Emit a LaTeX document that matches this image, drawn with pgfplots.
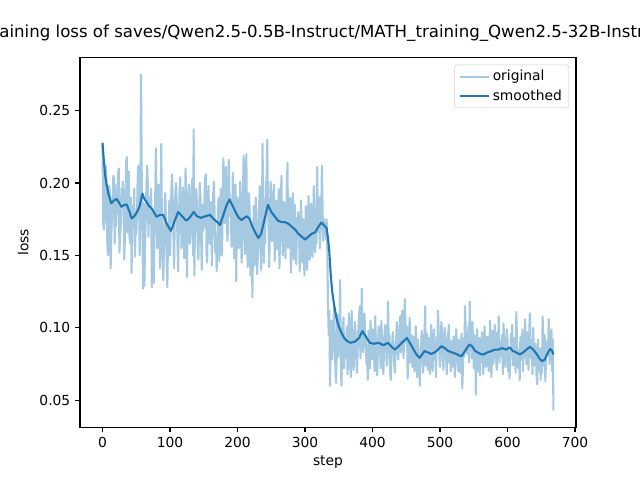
\documentclass[border=0pt]{standalone}
\usepackage{fontspec}
\setmainfont{DejaVu Sans}
\usepackage{pgfplots}
\pgfplotsset{compat=1.18}
\definecolor{tabblue}{HTML}{1F77B4}
\colorlet{lightblue}{tabblue!40!white}
\begin{document}
\begin{tikzpicture}
\begin{axis}[
  scale only axis, width=4.96in, height=3.696in,
  at={(0,0)}, anchor=south west,
  xmin=-33.4, xmax=701.4, ymin=0.0314, ymax=0.2866,
  xtick={0,100,200,300,400,500,600,700},
  ytick={0.05,0.10,0.15,0.20,0.25},
  scaled y ticks=false,
  yticklabel style={/pgf/number format/.cd, fixed, fixed zerofill, precision=2},
  /pgf/number format/assume math mode=true,
  tick align=outside, tick pos=left, major tick length=3.5pt,
  tick style={black, line width=0.8pt},
  axis line style={line width=0.8pt},
  ticklabel style={font=\fontsize{10}{12}\selectfont},
  xlabel={step}, ylabel={loss},
  xlabel style={at={(axis description cs:0.5,-0.1023)}, anchor=base, font=\fontsize{10}{12}\selectfont},
  ylabel style={at={(axis description cs:-0.1042,0.5)}, anchor=base, font=\fontsize{10}{12}\selectfont},
  title={training loss of saves/Qwen2.5-0.5B-Instruct/MATH\_training\_Qwen2.5-32B-Instruct},
  title style={at={(axis description cs:0.5,1.0314)}, anchor=base, font=\fontsize{12}{14}\selectfont},
  legend cell align=left,
  legend image code/.code={\draw[#1] (0pt,0pt) -- (21pt,0pt);},
  legend style={at={(axis description cs:1,1)}, anchor=north east, xshift=-5pt, yshift=-5pt,
    draw=black!20, rounded corners=2pt, fill=white, fill opacity=0.8, text opacity=1,
    font=\fontsize{10}{12}\selectfont, inner xsep=3pt, inner ysep=2pt, row sep=1pt},
]
\addplot[lightblue, line width=1.5pt, line join=round] coordinates {
(0,0.228)(1,0.172)(2,0.168)(3,0.175)(4,0.205)(5,0.212)(6,0.196)(7,0.160)(8,0.150)(9,0.190)
(10,0.198)(11,0.192)(12,0.141)(13,0.164)(14,0.176)(15,0.187)(16,0.205)(17,0.203)(18,0.158)(19,0.199)
(20,0.170)(21,0.183)(22,0.179)(23,0.207)(24,0.210)(25,0.152)(26,0.163)(27,0.171)(28,0.196)(29,0.188)
(30,0.201)(31,0.193)(32,0.147)(33,0.160)(34,0.181)(35,0.215)(36,0.218)(37,0.166)(38,0.199)(39,0.208)
(40,0.162)(41,0.158)(42,0.190)(43,0.138)(44,0.171)(45,0.184)(46,0.180)(47,0.196)(48,0.149)(49,0.167)
(50,0.165)(51,0.178)(52,0.203)(53,0.212)(54,0.196)(55,0.150)(56,0.190)(57,0.275)(58,0.209)(59,0.172)
(60,0.127)(61,0.186)(62,0.129)(63,0.158)(64,0.175)(65,0.198)(66,0.212)(67,0.201)(68,0.163)(69,0.190)
(70,0.185)(71,0.172)(72,0.196)(73,0.128)(74,0.148)(75,0.181)(76,0.131)(77,0.168)(78,0.190)(79,0.224)
(80,0.183)(81,0.155)(82,0.162)(83,0.199)(84,0.176)(85,0.141)(86,0.158)(87,0.227)(88,0.170)(89,0.150)
(90,0.133)(91,0.157)(92,0.182)(93,0.193)(94,0.171)(95,0.146)(96,0.128)(97,0.160)(98,0.175)(99,0.188)
(100,0.150)(101,0.172)(102,0.196)(103,0.206)(104,0.188)(105,0.164)(106,0.141)(107,0.176)(108,0.195)(109,0.200)
(110,0.186)(111,0.159)(112,0.139)(113,0.170)(114,0.192)(115,0.204)(116,0.181)(117,0.155)(118,0.163)(119,0.197)
(120,0.177)(121,0.148)(122,0.166)(123,0.210)(124,0.185)(125,0.135)(126,0.172)(127,0.190)(128,0.199)(129,0.158)
(130,0.161)(131,0.174)(132,0.195)(133,0.203)(134,0.150)(135,0.237)(136,0.136)(137,0.169)(138,0.188)(139,0.196)
(140,0.182)(141,0.158)(142,0.147)(143,0.171)(144,0.200)(145,0.192)(146,0.163)(147,0.140)(148,0.185)(149,0.167)
(150,0.170)(151,0.189)(152,0.204)(153,0.206)(154,0.152)(155,0.145)(156,0.181)(157,0.198)(158,0.165)(159,0.158)
(160,0.176)(161,0.187)(162,0.143)(163,0.168)(164,0.193)(165,0.201)(166,0.180)(167,0.152)(168,0.163)(169,0.139)
(170,0.158)(171,0.183)(172,0.190)(173,0.146)(174,0.165)(175,0.196)(176,0.177)(177,0.150)(178,0.188)(179,0.217)
(180,0.198)(181,0.172)(182,0.205)(183,0.211)(184,0.183)(185,0.160)(186,0.169)(187,0.216)(188,0.194)(189,0.177)
(190,0.189)(191,0.156)(192,0.171)(193,0.207)(194,0.184)(195,0.148)(196,0.165)(197,0.199)(198,0.132)(199,0.176)
(200,0.190)(201,0.183)(202,0.155)(203,0.163)(204,0.201)(205,0.178)(206,0.145)(207,0.160)(208,0.192)(209,0.219)
(210,0.186)(211,0.151)(212,0.164)(213,0.220)(214,0.175)(215,0.142)(216,0.158)(217,0.193)(218,0.180)(219,0.136)
(220,0.150)(221,0.172)(222,0.121)(223,0.158)(224,0.184)(225,0.143)(226,0.166)(227,0.190)(228,0.176)(229,0.137)
(230,0.148)(231,0.155)(232,0.185)(233,0.198)(234,0.178)(235,0.140)(236,0.163)(237,0.227)(238,0.190)(239,0.145)
(240,0.172)(241,0.158)(242,0.196)(243,0.205)(244,0.230)(245,0.188)(246,0.167)(247,0.142)(248,0.179)(249,0.201)
(250,0.193)(251,0.160)(252,0.168)(253,0.185)(254,0.199)(255,0.146)(256,0.171)(257,0.188)(258,0.154)(259,0.165)
(260,0.181)(261,0.196)(262,0.141)(263,0.163)(264,0.178)(265,0.205)(266,0.168)(267,0.150)(268,0.159)(269,0.187)
(270,0.183)(271,0.148)(272,0.170)(273,0.197)(274,0.214)(275,0.155)(276,0.163)(277,0.176)(278,0.190)(279,0.138)
(280,0.161)(281,0.179)(282,0.193)(283,0.147)(284,0.170)(285,0.185)(286,0.156)(287,0.144)(288,0.176)(289,0.162)
(290,0.180)(291,0.171)(292,0.139)(293,0.153)(294,0.188)(295,0.166)(296,0.145)(297,0.175)(298,0.168)(299,0.136)
(300,0.152)(301,0.184)(302,0.173)(303,0.140)(304,0.160)(305,0.191)(306,0.178)(307,0.147)(308,0.156)(309,0.186)
(310,0.175)(311,0.149)(312,0.163)(313,0.198)(314,0.181)(315,0.152)(316,0.170)(317,0.158)(318,0.211)(319,0.166)
(320,0.184)(321,0.190)(322,0.155)(323,0.168)(324,0.178)(325,0.212)(326,0.181)(327,0.160)(328,0.175)(329,0.165)
(330,0.170)(331,0.161)(332,0.175)(333,0.152)(334,0.118)(335,0.095)(336,0.112)(337,0.060)(338,0.088)(339,0.105)
(340,0.078)(341,0.085)(342,0.102)(343,0.115)(344,0.096)(345,0.070)(346,0.062)(347,0.088)(348,0.109)(349,0.080)
(350,0.094)(351,0.091)(352,0.133)(353,0.075)(354,0.060)(355,0.083)(356,0.098)(357,0.107)(358,0.072)(359,0.090)
(360,0.079)(361,0.093)(362,0.101)(363,0.068)(364,0.085)(365,0.110)(366,0.090)(367,0.074)(368,0.066)(369,0.112)
(370,0.097)(371,0.082)(372,0.071)(373,0.088)(374,0.104)(375,0.095)(376,0.077)(377,0.069)(378,0.086)(379,0.100)
(380,0.108)(381,0.115)(382,0.079)(383,0.091)(384,0.127)(385,0.098)(386,0.083)(387,0.088)(388,0.110)(389,0.096)
(390,0.093)(391,0.075)(392,0.081)(393,0.064)(394,0.098)(395,0.089)(396,0.072)(397,0.105)(398,0.091)(399,0.078)
(400,0.083)(401,0.099)(402,0.094)(403,0.070)(404,0.108)(405,0.090)(406,0.076)(407,0.067)(408,0.085)(409,0.101)
(410,0.096)(411,0.088)(412,0.072)(413,0.105)(414,0.093)(415,0.079)(416,0.068)(417,0.084)(418,0.099)(419,0.102)
(420,0.091)(421,0.074)(422,0.080)(423,0.118)(424,0.087)(425,0.096)(426,0.070)(427,0.064)(428,0.081)(429,0.089)
(430,0.097)(431,0.088)(432,0.075)(433,0.069)(434,0.082)(435,0.093)(436,0.104)(437,0.091)(438,0.078)(439,0.086)
(440,0.099)(441,0.108)(442,0.083)(443,0.088)(444,0.112)(445,0.094)(446,0.079)(447,0.103)(448,0.120)(449,0.090)
(450,0.096)(451,0.101)(452,0.065)(453,0.084)(454,0.092)(455,0.107)(456,0.076)(457,0.081)(458,0.095)(459,0.073)
(460,0.088)(461,0.094)(462,0.070)(463,0.079)(464,0.101)(465,0.085)(466,0.066)(467,0.092)(468,0.083)(469,0.072)
(470,0.060)(471,0.076)(472,0.090)(473,0.098)(474,0.087)(475,0.069)(476,0.079)(477,0.095)(478,0.115)(479,0.074)
(480,0.089)(481,0.096)(482,0.071)(483,0.080)(484,0.093)(485,0.068)(486,0.077)(487,0.102)(488,0.083)(489,0.070)
(490,0.091)(491,0.099)(492,0.078)(493,0.084)(494,0.066)(495,0.094)(496,0.087)(497,0.112)(498,0.096)(499,0.080)
(500,0.073)(501,0.090)(502,0.104)(503,0.097)(504,0.082)(505,0.071)(506,0.088)(507,0.100)(508,0.093)(509,0.079)
(510,0.068)(511,0.087)(512,0.095)(513,0.102)(514,0.076)(515,0.081)(516,0.070)(517,0.091)(518,0.084)(519,0.073)
(520,0.094)(521,0.079)(522,0.066)(523,0.088)(524,0.099)(525,0.085)(526,0.075)(527,0.070)(528,0.092)(529,0.081)
(530,0.069)(531,0.087)(532,0.096)(533,0.058)(534,0.074)(535,0.093)(536,0.080)(537,0.115)(538,0.098)(539,0.086)
(540,0.082)(541,0.090)(542,0.101)(543,0.076)(544,0.118)(545,0.085)(546,0.093)(547,0.079)(548,0.104)(549,0.088)
(550,0.072)(551,0.095)(552,0.089)(553,0.054)(554,0.078)(555,0.099)(556,0.086)(557,0.070)(558,0.093)(559,0.067)
(560,0.085)(561,0.076)(562,0.097)(563,0.090)(564,0.068)(565,0.081)(566,0.101)(567,0.088)(568,0.073)(569,0.079)
(570,0.094)(571,0.086)(572,0.070)(573,0.077)(574,0.105)(575,0.091)(576,0.066)(577,0.083)(578,0.098)(579,0.075)
(580,0.089)(581,0.102)(582,0.093)(583,0.079)(584,0.071)(585,0.097)(586,0.084)(587,0.108)(588,0.076)(589,0.090)
(590,0.081)(591,0.088)(592,0.095)(593,0.068)(594,0.103)(595,0.092)(596,0.077)(597,0.073)(598,0.086)(599,0.099)
(600,0.091)(601,0.070)(602,0.083)(603,0.065)(604,0.079)(605,0.096)(606,0.088)(607,0.102)(608,0.074)(609,0.087)
(610,0.093)(611,0.081)(612,0.069)(613,0.111)(614,0.090)(615,0.076)(616,0.072)(617,0.085)(618,0.064)(619,0.094)
(620,0.078)(621,0.083)(622,0.099)(623,0.070)(624,0.092)(625,0.080)(626,0.106)(627,0.089)(628,0.075)(629,0.097)
(630,0.082)(631,0.071)(632,0.094)(633,0.110)(634,0.091)(635,0.079)(636,0.085)(637,0.068)(638,0.100)(639,0.083)
(640,0.074)(641,0.089)(642,0.083)(643,0.066)(644,0.061)(645,0.092)(646,0.077)(647,0.070)(648,0.086)(649,0.064)
(650,0.081)(651,0.069)(652,0.108)(653,0.085)(654,0.074)(655,0.095)(656,0.063)(657,0.078)(658,0.088)(659,0.091)
(660,0.083)(661,0.106)(662,0.075)(663,0.097)(664,0.087)(665,0.099)(666,0.070)(667,0.092)(668,0.043)
};
\addlegendentry{original}
\addplot[tabblue, line width=1.5pt, line join=round] coordinates {
(0,0.2275)(2,0.215)(4,0.205)(6,0.199)(9,0.192)(13,0.186)(17,0.188)(21,0.189)(25,0.186)(28,0.1836)
(32,0.185)(36,0.185)(40,0.180)(43,0.1756)(47,0.177)(51,0.180)(55,0.184)(59,0.1927)(62,0.189)(65,0.187)
(69,0.184)(73,0.1824)(77,0.179)(80,0.1767)(85,0.178)(90,0.178)(95,0.172)(101,0.167)(104,0.170)(107,0.174)
(112,0.180)(118,0.177)(124,0.174)(129,0.176)(135,0.180)(140,0.177)(146,0.176)(152,0.177)(159,0.178)(165,0.175)
(170,0.173)(174,0.171)(179,0.178)(184,0.185)(188,0.1886)(193,0.184)(198,0.179)(202,0.176)(206,0.1744)(210,0.176)
(214,0.177)(218,0.175)(222,0.170)(226,0.166)(231,0.162)(235,0.165)(240,0.175)(245,0.185)(250,0.180)(255,0.177)
(260,0.174)(265,0.173)(270,0.173)(275,0.172)(280,0.170)(285,0.168)(290,0.165)(295,0.163)(300,0.161)(305,0.163)
(310,0.165)(315,0.166)(320,0.170)(324,0.1726)(328,0.171)(332,0.1687)(334,0.162)(336,0.152)(338,0.137)(340,0.126)
(343,0.116)(347,0.1057)(350,0.101)(354,0.0965)(358,0.093)(362,0.091)(367,0.0897)(374,0.0905)(380,0.093)(385,0.0977)
(390,0.094)(396,0.0897)(402,0.089)(409,0.0897)(416,0.088)(423,0.0897)(428,0.087)(433,0.085)(438,0.087)(444,0.090)
(451,0.093)(456,0.089)(462,0.084)(466,0.081)(470,0.0793)(474,0.082)(477,0.084)(482,0.083)(487,0.082)(492,0.083)
(497,0.085)(502,0.0873)(507,0.086)(512,0.084)(518,0.083)(524,0.082)(528,0.081)(532,0.0805)(537,0.084)(541,0.087)
(544,0.0885)(548,0.087)(552,0.084)(556,0.083)(560,0.082)(564,0.0816)(570,0.083)(576,0.084)(581,0.085)(586,0.085)
(592,0.086)(598,0.085)(603,0.0865)(608,0.084)(613,0.083)(618,0.0816)(623,0.083)(628,0.085)(633,0.0869)(638,0.085)
(643,0.082)(647,0.079)(651,0.077)(655,0.078)(659,0.082)(663,0.0855)(666,0.084)(668,0.0816)
};
\addlegendentry{smoothed}
\end{axis}
\pgfresetboundingbox
\useasboundingbox (-0.8in,-0.528in) rectangle (5.6in,4.272in);
\end{tikzpicture}
\end{document}
